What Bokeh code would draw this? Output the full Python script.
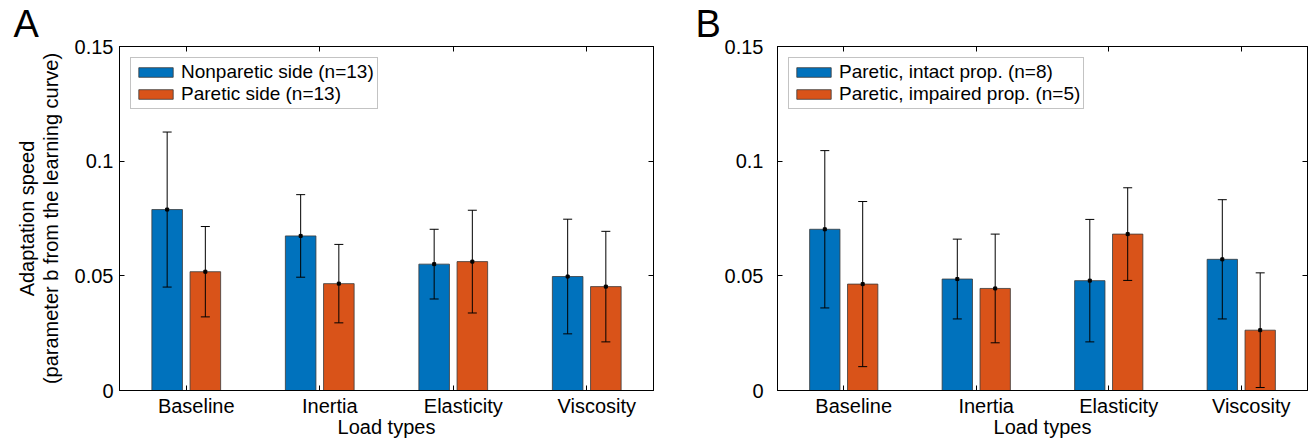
from bokeh.plotting import figure
from bokeh.models import (ColumnDataSource, Range1d, FixedTicker, LinearAxis, Whisker,
                          TeeHead, Legend, LegendItem, CustomLabelingPolicy)
from bokeh.layouts import row
from bokeh.embed import file_html
from bokeh.resources import INLINE
from bokeh.transform import dodge

# ---------------- data ----------------
categories = ["Baseline", "Inertia", "Elasticity", "Viscosity"]
y_ticks = [0, 0.05, 0.1, 0.15]
y_tick_labels = ["0", "0.05", "0.1", "0.15"]

# Panel A
a_labels = ["Nonparetic side (n=13)", "Paretic side (n=13)"]
a_nonparetic_mean = [0.0789, 0.0674, 0.0551, 0.0497]
a_nonparetic_err = [0.0338, 0.0180, 0.0152, 0.0250]
a_paretic_mean = [0.0518, 0.0466, 0.0562, 0.0453]
a_paretic_err = [0.0197, 0.0171, 0.0224, 0.0241]

# Panel B
b_labels = ["Paretic, intact prop. (n=8)", "Paretic, impaired prop. (n=5)"]
b_intact_mean = [0.0703, 0.0486, 0.0479, 0.0572]
b_intact_err = [0.0343, 0.0174, 0.0267, 0.0260]
b_impaired_mean = [0.0464, 0.0445, 0.0682, 0.0263]
b_impaired_err = [0.0360, 0.0237, 0.0202, 0.0250]

x_label = "Load types"
y_label = "Adaptation speed\n(parameter b from the learning curve)"

# ---------------- style ----------------
FONT = "Liberation Sans"
FS = "20px"
LEG_FS = "19px"
BLUE = "#0072BD"
ORANGE = "#D95319"
OFFSET = 0.143
BAR_W = 0.229
FRAME_H = 346
TOP = 46
LABEL_SHIFT_PX = 10


def hide_labels():
    return CustomLabelingPolicy(code="""
for (const i of indices) { indices.unset(i) }
return indices
""")


def style_axis(ax):
    ax.minor_tick_in = 0
    ax.minor_tick_out = 0
    ax.axis_line_color = "black"
    ax.major_tick_line_color = "black"
    ax.major_label_text_font = FONT
    ax.major_label_text_font_size = FS
    ax.major_label_text_color = "black"
    ax.axis_label_text_font = FONT
    ax.axis_label_text_font_size = FS
    ax.axis_label_text_font_style = "normal"
    ax.axis_label_text_color = "black"


def tick_only_axis(ticks, **kw):
    return LinearAxis(ticker=FixedTicker(ticks=ticks), major_label_text_font_size="1px",
                      major_label_policy=hide_labels(),
                      major_tick_in=5, major_tick_out=0, minor_tick_in=0, minor_tick_out=0,
                      axis_line_color="black", major_label_standoff=0, **kw)


def make_panel(letter, labels, m1, e1, m2, e2, width, mb_left, mb_right,
               tick_standoff, letter_dx, show_ylabel):
    xs = [i + 1 for i in range(len(categories))]
    src = ColumnDataSource(dict(
        x=xs, m1=m1, m2=m2,
        lo1=[m - e for m, e in zip(m1, e1)], hi1=[m + e for m, e in zip(m1, e1)],
        lo2=[m - e for m, e in zip(m2, e2)], hi2=[m + e for m, e in zip(m2, e2)],
    ))
    x0, x1 = 0.5, len(categories) + 0.5
    y0, y1 = y_ticks[0], y_ticks[-1]
    frame_w = width - mb_left - mb_right
    d = LABEL_SHIFT_PX * (x1 - x0) / frame_w
    p = figure(width=width, height=440, output_backend="svg", toolbar_location=None,
               x_range=Range1d(x0, x1), y_range=Range1d(y0, y1),
               x_axis_type=None,
               min_border_left=mb_left, min_border_right=mb_right,
               min_border_top=TOP, min_border_bottom=440 - TOP - FRAME_H)
    p.extra_x_ranges = {"lbl": Range1d(x0 - d, x1 - d)}
    p.xgrid.visible = False
    p.ygrid.visible = False
    p.outline_line_color = "black"
    p.outline_line_width = 1
    p.background_fill_color = "white"
    p.border_fill_color = "white"

    # panel letter as a left-aligned title shifted into the left margin
    p.title.text = letter
    p.title.align = "left"
    p.title.offset = letter_dx
    p.title.standoff = -4
    p.title.text_font = FONT
    p.title.text_font_size = "38px"
    p.title.text_font_style = "normal"
    p.title.text_color = "black"
    p.title.text_line_height = 1.0
    p.title.vertical_align = "bottom"

    r1 = p.vbar(x=dodge("x", -OFFSET), top="m1", width=BAR_W, bottom=0, source=src,
                fill_color=BLUE, line_color="#3a3a3a", line_width=0.8)
    r2 = p.vbar(x=dodge("x", OFFSET), top="m2", width=BAR_W, bottom=0, source=src,
                fill_color=ORANGE, line_color="#3a3a3a", line_width=0.8)

    for dx, lo, hi in [(-OFFSET, "lo1", "hi1"), (OFFSET, "lo2", "hi2")]:
        w = Whisker(base=dodge("x", dx), lower=lo, upper=hi, source=src,
                    line_color="black", line_width=1, level="overlay",
                    upper_head=TeeHead(size=9, line_color="black", line_width=1),
                    lower_head=TeeHead(size=9, line_color="black", line_width=1))
        p.add_layout(w)
    p.scatter(x=dodge("x", -OFFSET), y="m1", source=src, marker="square", size=3,
              fill_color="black", line_color="black", level="overlay")
    p.scatter(x=dodge("x", OFFSET), y="m2", source=src, marker="square", size=3,
              fill_color="black", line_color="black", level="overlay")

    # x axes: ticks at the frame edge, category labels slightly to the right
    p.add_layout(tick_only_axis(xs), "below")
    lab_ax = LinearAxis(x_range_name="lbl", ticker=FixedTicker(ticks=xs),
                        major_label_overrides={x: c for x, c in zip(xs, categories)},
                        axis_label=x_label)
    style_axis(lab_ax)
    lab_ax.axis_line_color = None
    lab_ax.major_tick_line_color = None
    lab_ax.major_tick_in = 0
    lab_ax.major_tick_out = 0
    lab_ax.major_label_standoff = 0
    lab_ax.axis_label_standoff = -4
    p.add_layout(lab_ax, "below")

    ya = p.yaxis[0]
    ya.ticker = FixedTicker(ticks=y_ticks)
    ya.major_label_overrides = {t: l for t, l in zip(y_ticks, y_tick_labels)}
    style_axis(ya)
    ya.major_tick_in = 5
    ya.major_tick_out = 0
    ya.major_label_standoff = tick_standoff
    if show_ylabel:
        ya.axis_label = y_label
        ya.axis_label_standoff = 10
        ya.axis_label_text_line_height = 1.05

    p.add_layout(tick_only_axis(xs), "above")
    p.add_layout(tick_only_axis(y_ticks), "right")

    legend = Legend(items=[LegendItem(label=labels[0], renderers=[r1]),
                           LegendItem(label=labels[1], renderers=[r2])],
                    location="top_left", margin=11, padding=3, spacing=0,
                    glyph_width=43, glyph_height=12, label_standoff=4,
                    label_text_font=FONT, label_text_font_size=LEG_FS,
                    label_text_color="black",
                    border_line_color="#888888", border_line_width=1.5,
                    background_fill_color="white", background_fill_alpha=1)
    p.add_layout(legend)
    return p


pA = make_panel("A", a_labels, a_nonparetic_mean, a_nonparetic_err,
                a_paretic_mean, a_paretic_err,
                width=660, mb_left=119, mb_right=7, tick_standoff=6,
                letter_dx=-106, show_ylabel=True)
pB = make_panel("B", b_labels, b_intact_mean, b_intact_err,
                b_impaired_mean, b_impaired_err,
                width=652, mb_left=117, mb_right=3, tick_standoff=14,
                letter_dx=-82, show_ylabel=False)

layout = row(pA, pB)
open("out.html", "w").write(file_html(layout, INLINE))
